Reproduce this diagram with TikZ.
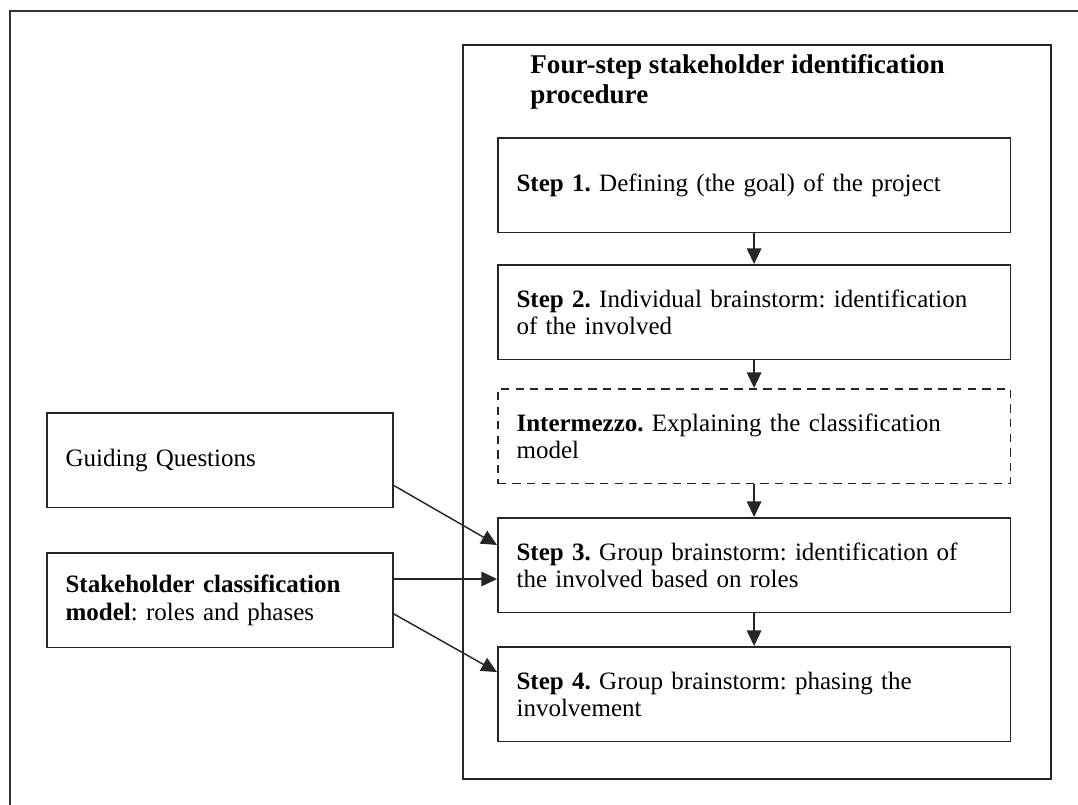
\documentclass[tikz,border=0pt]{standalone}
\usepackage{fontspec}
\setmainfont{Liberation Serif}
\usetikzlibrary{arrows.meta, calc}
\newcommand{\txtsize}{\fontsize{12pt}{13.2pt}\selectfont\frenchspacing}
\tikzstyle{stepbox} = [draw=black!85, line width=0.8pt, rectangle, anchor=north west, minimum height=45.5pt, text width=228pt, align=left, inner xsep=9pt, font=\txtsize]
\tikzstyle{sidebox} = [stepbox, text width=148pt]
\tikzstyle{arrow} = [draw=black!85, line width=0.7pt, -{Triangle[length=7.5pt,width=7pt]}]

\begin{document}
\begin{tikzpicture}[x=0.48pt, y=-0.48pt]
    \useasboundingbox (0,0) rectangle (1078,805);

    % Outer frame
    \draw[black!80, line width=1pt] (10,805) |- (1078,11);

    % Procedure frame
    \node[draw=black!85, line width=0.8pt, anchor=north west, minimum width=282.2pt, minimum height=352.3pt, inner sep=0pt] (proc) at (462,44) {};
    \node[anchor=north west, inner sep=0pt, align=left, font=\fontsize{13pt}{14.4pt}\selectfont\bfseries] (title) at (530,54) {Four-step stakeholder identification\\procedure};

    % Steps
    \node[stepbox] (s1) at (497,137) {\textbf{Step 1.} Defining (the goal) of the project};
    \node[stepbox] (s2) at (497,264) {\textbf{Step 2.} Individual brainstorm: identification\\of the involved};
    \node[stepbox, dash pattern=on 4pt off 3pt] (im) at (497,388) {\textbf{Intermezzo.} Explaining the classification\\model};
    \node[stepbox] (s3) at (497,517) {\textbf{Step 3.} Group brainstorm: identification of\\the involved based on roles};
    \node[stepbox] (s4) at (497,646) {\textbf{Step 4.} Group brainstorm: phasing the\\involvement};

    % Inputs
    \node[sidebox] (gq) at (46,412) {Guiding Questions};
    \node[sidebox] (scm) at (46,552) {\textbf{Stakeholder classification}\\\textbf{model}: roles and phases};

    % Step arrows
    \draw[arrow] (s1.south) -- (s2.north);
    \draw[arrow] (s2.south) -- (im.north);
    \draw[arrow] (im.south) -- (s3.north);
    \draw[arrow] (s3.south) -- (s4.north);

    % Input arrows
    \coordinate (scmout) at ($(scm.north east)!0.28!(scm.south east)$);
    \draw[arrow] ($(gq.north east)!0.76!(gq.south east)$) -- ($(s3.north west)!0.29!(s3.south west)$);
    \draw[arrow] (scmout) -- (scmout -| s3.west);
    \draw[arrow] ($(scm.north east)!0.64!(scm.south east)$) -- ($(s4.north west)!0.27!(s4.south west)$);
\end{tikzpicture}
\end{document}
